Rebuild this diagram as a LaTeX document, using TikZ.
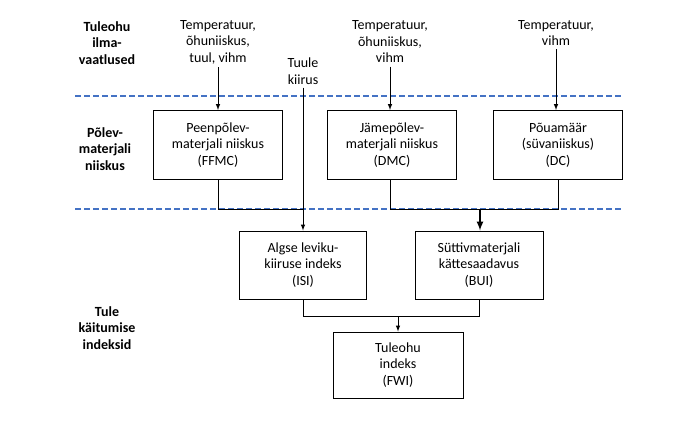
\documentclass[tikz,border=0pt]{standalone}
\usepackage{fontspec}
\setmainfont{Carlito}
\definecolor{dblue}{RGB}{68,114,196}
\begin{document}
\begin{tikzpicture}[x=1pt,y=-1pt,
 box/.style={draw,line width=1pt,minimum width=129pt,minimum height=69pt,align=center,font=\fontsize{14}{16.5}\selectfont},
 txt/.style={align=center,font=\fontsize{14}{16.5}\selectfont},
 lab/.style={align=center,font=\bfseries\fontsize{14}{16.5}\selectfont},
 con/.style={line width=1pt},
 arr/.style={line width=1pt,-latex},
 bluedash/.style={draw=dblue,dash pattern=on 6pt off 3pt,line width=1.2pt}]
\useasboundingbox (0,0) rectangle (680,425);
\draw[bluedash] (75,96) -- (622,96);
\draw[bluedash] (75,209) -- (622,209);
\node[lab] (l1) at (107,43) {Tuleohu\\ilma-\\vaatlused};
\node[lab] (l2) at (105,149) {Põlev-\\materjali\\niiskus};
\node[lab] (l3) at (107,328) {Tule\\käitumise\\indeksid};
\node[txt] (t1) at (218,42) {Temperatuur,\\õhuniiskus,\\tuul, vihm};
\node[txt] (t2) at (303,71) {Tuule\\kiirus};
\node[txt] (t3) at (390,42) {Temperatuur,\\õhuniiskus,\\vihm};
\node[txt] (t4) at (556,33) {Temperatuur,\\vihm};
\node[box] (ffmc) at (218,145) {Peenpõlev-\\materjali niiskus\\(FFMC)};
\node[box] (dmc) at (392,145) {Jämepõlev-\\materjali niiskus\\(DMC)};
\node[box] (dc) at (558,145) {Põuamäär\\(süvaniiskus)\\(DC)};
\node[box,minimum width=127pt,minimum height=68pt] (isi) at (303,265) {Algse leviku-\\kiiruse indeks\\(ISI)};
\node[box,minimum width=128pt,minimum height=68pt] (bui) at (479,265) {Süttivmaterjali\\kättesaadavus\\(BUI)};
\node[box,minimum width=130pt,minimum height=66pt] (fwi) at (398,365) {Tuleohu\\indeks\\(FWI)};
\draw[arr] (t1.south) -- (ffmc.north);
\draw[arr] (t2.south) -- (isi.north);
\draw[arr] (t3.south) -- (dmc.north -| t3.south);
\draw[arr] (t4.south) -- (dc.north -| t4.south);
\draw[con] (ffmc.south) -- (218,209) -- (303,209);
\draw[con] (dmc.south -| 390,0) -- (390,209) -- (558,209) -- (dc.south);
\draw[line width=2pt,-latex] (480,209) -- (bui.north -| 480,0);
\draw[con] (isi.south) -- (303,316) -- (479,316) -- (bui.south);
\draw[arr] (398,316) -- (fwi.north);
\end{tikzpicture}
\end{document}
